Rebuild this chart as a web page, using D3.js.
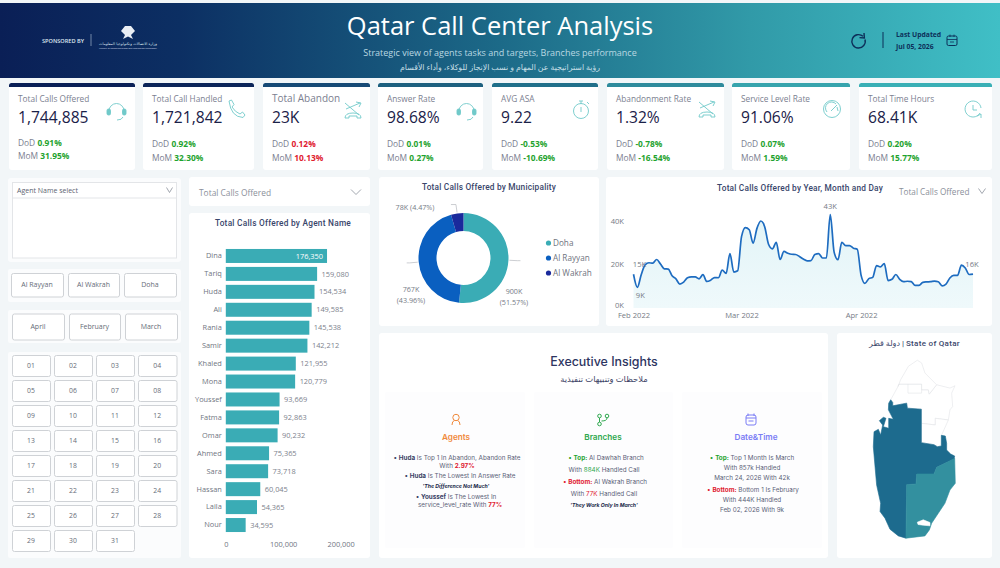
<!DOCTYPE html>
<html><head><meta charset="utf-8">
<style>html,body{margin:0;padding:0;background:#f2f6f8;overflow:hidden}svg{display:block}text{font-family:"Open Sans",sans-serif}</style>
<script src="https://cdn.jsdelivr.net/npm/d3@7"></script></head><body><script>
const kpiNames=["Total Calls Offered","Total Call Handled","Total Abandon","Answer Rate","AVG ASA","Abandonment Rate","Service Level Rate","Total Time Hours"];
const kpiValues=["1,744,885","1,721,842","23K","98.68%","9.22","1.32%","91.06%","68.41K"];
const kpiDoD=["0.91%","0.92%","0.12%","0.01%","-0.53%","-0.78%","0.07%","0.20%"];
const kpiMoM=["31.95%","32.30%","10.13%","0.27%","-10.69%","-16.54%","1.59%","15.77%"];
const kpiBad=[false,false,true,false,false,false,false,false];
const agents=["Dina","Tariq","Huda","Ali","Rania","Samir","Khaled","Mona","Youssef","Fatma","Omar","Ahmed","Sara","Hassan","Laila","Nour"];
const agentCalls=[176350,159080,154534,149585,145538,142212,121955,120779,93669,92863,90232,75365,73718,60045,54365,34595];
const municipalities=["Doha","Al Rayyan","Al Wakrah"];
const municipalityCalls=[900000,767000,78000];
const municipalityLabels=[["900K","(51.57%)"],["767K","(43.96%)"],["78K (4.47%)"]];
const branchButtons=["Al Rayyan","Al Wakrah","Doha"];
const monthButtons=["April","February","March"];
const dayButtons=["01","02","03","04","05","06","07","08","09","10","11","12","13","14","15","16","17","18","19","20","21","22","23","24","25","26","27","28","29","30","31"];
const dailyCallsK=[15.5,9.5,15.3,19.8,20.8,20.6,22.3,20.2,18,17.9,14.8,13.4,11,11.9,13.9,14.3,14.3,13.4,15.3,12.2,12.8,14,13.9,17.4,15.9,25,16.5,17.1,32.8,37,36,29.8,36.6,40,37.4,29.3,27.2,30.2,22.3,26,25.2,24.7,24.6,23.7,22.5,21.7,21.8,24.6,25,23,23,43,25.7,22.2,30.2,28.7,28.7,27.5,27,15,11.3,13.5,14.1,19.5,18.9,20.4,12.6,13.2,15.4,13.2,12.1,12.3,12.1,10.4,10.4,11.8,12,12.1,12.4,12.1,10.2,11,13.8,15,15,19.7,18.4,15.4,15.6];
const lineTicksK=[0,20,40];
const regionRayyan=[[50.926,25.79],[50.946,25.766],[50.946,25.736],[51.085,25.76],[51.092,25.715],[51.231,25.706],[51.231,25.405],[51.357,25.387],[51.39,25.369],[51.43,25.375],[51.43,25.471],[51.47,25.465],[51.483,25.399],[51.483,25.339],[51.523,25.303],[51.563,25.285],[51.556,25.255],[51.466,25.219],[51.384,25.183],[51.357,25.123],[51.185,25.123],[51.178,25.033],[51.085,25.027],[51.078,24.543],[51.002,24.564],[50.919,24.624],[50.869,24.724],[50.82,24.784],[50.826,24.859],[50.786,25.024],[50.773,25.159],[50.753,25.369],[50.76,25.504],[50.803,25.525],[50.826,25.474],[50.846,25.564],[50.813,25.603],[50.853,25.633],[50.879,25.624],[50.853,25.549],[50.906,25.534],[50.906,25.624],[50.952,25.615],[50.903,25.7],[50.906,25.76]];
const regionWakrah=[[51.563,25.264],[51.569,25.039],[51.516,24.979],[51.466,24.859],[51.4,24.769],[51.334,24.679],[51.311,24.618],[51.267,24.564],[51.078,24.543],[51.085,25.027],[51.178,25.033],[51.185,25.123],[51.357,25.123],[51.384,25.183],[51.466,25.219]];
const regionInlet=[[51.191,24.688],[51.25,24.709],[51.317,24.685],[51.317,24.655],[51.25,24.661],[51.198,24.667]];
const regionShamal=[[50.999,25.91],[51.025,25.97],[51.102,26.09],[51.191,26.144],[51.234,26.12],[51.267,26.03],[51.383,25.925],[51.31,25.841],[51.3,25.88],[51.234,25.88],[51.234,25.931],[51.009,25.931]];
const regionKhor=[[50.926,25.79],[50.999,25.91],[51.009,25.931],[51.234,25.931],[51.234,25.88],[51.3,25.88],[51.31,25.841],[51.383,25.925],[51.516,25.895],[51.566,25.916],[51.533,25.85],[51.543,25.73],[51.516,25.7],[51.5,25.609],[51.37,25.624],[51.37,25.564],[51.231,25.579],[51.231,25.706],[51.092,25.715],[51.085,25.76],[50.946,25.736],[50.946,25.766]];
const regionDoha=[[51.231,25.579],[51.37,25.564],[51.37,25.624],[51.5,25.609],[51.433,25.474],[51.43,25.375],[51.39,25.369],[51.357,25.387],[51.231,25.405]];
const regionLine=[[51.098,25.931],[51.098,25.85],[51.234,25.85],[51.234,25.88]];

const W=1000,H=568,INK="#1a2148",GREY="#6f7684",GREEN="#1fa32f",RED="#e0202f",TEAL="#3aacb5";
const svg=d3.select("body").append("svg").attr("width",W).attr("height",H).attr("viewBox",`0 0 ${W} ${H}`);
const defs=svg.append("defs");
const hg=defs.append("linearGradient").attr("id","hdr");
[["0%","#0a1f56"],["18%","#0c2f63"],["50%","#1c6a88"],["75%","#319aa8"],["100%","#40bfc6"]].forEach(s=>hg.append("stop").attr("offset",s[0]).attr("stop-color",s[1]));
const ag=defs.append("linearGradient").attr("id","areaG").attr("x1",0).attr("x2",0).attr("y1",0).attr("y2",1);
ag.append("stop").attr("offset","0%").attr("stop-color","#e2f4f7");ag.append("stop").attr("offset","100%").attr("stop-color","#eff9fb");

function panel(x0,y0,x1,y1,r=3,fill="#fff"){return svg.append("rect").attr("x",x0).attr("y",y0).attr("width",x1-x0).attr("height",y1-y0).attr("rx",r).attr("fill",fill)}
function txt(x,y,s,o={}){const t=svg.append("text").attr("x",x).attr("y",y).text(s).attr("font-size",o.size||9).attr("fill",o.fill||GREY).attr("text-anchor",o.anchor||"start");
 if(o.weight)t.attr("font-weight",o.weight);if(o.family)t.style("font-family",o.family);if(o.ls)t.attr("letter-spacing",o.ls);if(o.italic)t.attr("font-style","italic");return t}
function chevron(x,y,w=5){svg.append("path").attr("d",`M${x-w},${y-2.5}L${x},${y+2.5}L${x+w},${y-2.5}`).attr("fill","none").attr("stroke","#8a909a").attr("stroke-width",.8)}
function rich(x,y,parts,o={}){const t=svg.append("text").attr("x",x).attr("y",y).attr("text-anchor",o.anchor||"middle").attr("font-size",o.size||6.6).style("font-family","Inter,sans-serif");
 parts.forEach(p=>{const s=t.append("tspan").text(p.t).attr("fill",p.c||"#5b6178");if(p.b)s.attr("font-weight",700);if(p.i)s.attr("font-style","italic")});return t}

// header
svg.append("rect").attr("x",0).attr("y",3).attr("width",W).attr("height",75).attr("fill","url(#hdr)");
txt(500,35,"Qatar Call Center Analysis",{size:25.5,fill:"#fff",anchor:"middle"});
txt(500,56,"Strategic view of agents tasks and targets, Branches performance",{size:9,fill:"#b9d8e2",anchor:"middle"});
txt(500,70,"رؤية استراتيجية عن المهام و نسب الإنجاز للوكلاء، وأداء الأقسام",{size:7.8,fill:"#c6dfe6",anchor:"middle",family:"'Noto Sans','DejaVu Sans',sans-serif"});
txt(42,42.5,"SPONSORED BY",{size:5.6,fill:"#dfe7f0",weight:600});
svg.append("line").attr("x1",91).attr("x2",91).attr("y1",34).attr("y2",46).attr("stroke","#9fb2c9").attr("stroke-width",.7);
svg.append("path").attr("d","M125,26 L131,26 L135,31 L131,35 L133,39 L128,36.5 L123,39 L125,35 L121,31Z").attr("fill","#e9eef4");
txt(128,44.5,"وزارة الاتصالات وتكنولوجيا المعلومات",{size:3.6,fill:"#dfe7f0",anchor:"middle",family:"'DejaVu Sans',sans-serif"}).attr("textLength",58);
txt(128,48.5,"Ministry of Communications and Information Technology",{size:2.4,fill:"#cfd9e4",anchor:"middle"}).attr("textLength",58);
svg.append("path").attr("d","M872,36.5 A6.7,6.7 0 1 1 870,33.3 M871,30 L871.4,35 L866.5,34.6").attr("transform","translate(-7,3)").attr("fill","none").attr("stroke","#0d2f59").attr("stroke-width",1.4);
svg.append("line").attr("x1",883).attr("x2",883).attr("y1",32).attr("y2",48).attr("stroke","#0d2f59").attr("stroke-width",1);
txt(896,37,"Last Updated",{size:6.8,fill:"#0d2f59",weight:700});
txt(896,49,"Jul 05, 2026",{size:6.8,fill:"#0d2f59",weight:700});
svg.append("rect").attr("x",947).attr("y",36).attr("width",10).attr("height",9.5).attr("rx",1.5).attr("fill","none").attr("stroke","#0d2f59");
svg.append("path").attr("d","M947,39.5H957M950,34.6V37M954,34.6V37M950,42H954").attr("fill","none").attr("stroke","#0d2f59").attr("stroke-width",.8);

// KPI cards
const cardX=[[9,135],[143,254],[263,370],[378,483],[492,598],[607,724],[732,850],[859,992]];
const cardBar=["#0a2057","#0c2559","#174a76","#1d607f","#206f8a","#2e8b9c","#37a4ad","#3ab0b6"];
const ICON="#70c9c9";
const icons=[
 g=>{g.append("path").attr("d","M-7,1 A7.5,7.5 0 0 1 8,1 M7,7 Q6,10 1,10").attr("fill","none");g.append("rect").attr("x",-9).attr("y",-1).attr("width",3.5).attr("height",6).attr("rx",1.5);g.append("rect").attr("x",6.5).attr("y",-1).attr("width",3.5).attr("height",6).attr("rx",1.5)},
 g=>{g.append("path").attr("d","M-8,-9 L-5.5,-10 L-3,-5.5 L-5,-3 Q-2,2 3,4 L5.5,2 L8,5 L6,7.5 Q-6,7 -8,-9Z").attr("fill","none")},
 g=>{g.append("path").attr("d","M-8,-7 L6,5 M-7,-1 L7,-7 M3,-8 L8,-7 L6,-3 M-8,8 Q-8,3 0,3 Q8,3 8,8 L4,8 L4,6 L-4,6 L-4,8Z").attr("fill","none")},
 null,
 g=>{g.append("circle").attr("r",7.5).attr("cy",1).attr("fill","none");g.append("path").attr("d","M0,-3V2M-2,-9H2M0,-9V-6M6,-8L8,-6").attr("fill","none")},
 null,
 g=>{g.append("circle").attr("r",8.5).attr("fill","none");g.append("path").attr("d","M-1,2 L5,-4M-5,3 A6,6 0 0 1 4,-5 M5,-2 L6,2").attr("fill","none")},
 g=>{g.append("path").attr("d","M7,4 A8,8 0 1 1 8,-1 M0,-4V1H4M4,7 L8,5 L8,9").attr("fill","none")}
];
icons[3]=icons[0];icons[5]=icons[2];
const iconPos=[[116,110],[237,110],[353,110],[466,110],[581,110],[707,109],[832,109],[973,109]];
kpiNames.forEach((n,i)=>{
 const [a,b]=cardX[i];
 panel(a,83,b,170,3);
 svg.append("path").attr("d",`M${a},87V85.5Q${a},83 ${a+2.5},83H${b-2.5}Q${b},83 ${b},85.5V87Z`).attr("fill",cardBar[i]);
 const tx=a+9;
 txt(tx,102,n,{size:i==2?10:8.3,fill:"#7b8090"});
 txt(tx,123,kpiValues[i],{size:15.6,fill:INK,weight:500});
 const by=i==0?146:147;
 const col=kpiBad[i]?RED:GREEN;
 rich(tx,by,[{t:"DoD ",c:"#7b8090"},{t:kpiDoD[i],c:col,b:1}],{anchor:"start",size:8.4}).style("font-family","'Open Sans',sans-serif");
 rich(tx,i==0?159:161,[{t:"MoM ",c:"#7b8090"},{t:kpiMoM[i],c:col,b:1}],{anchor:"start",size:8.4}).style("font-family","'Open Sans',sans-serif");
 const g=svg.append("g").attr("transform",`translate(${iconPos[i][0]},${iconPos[i][1]})`).attr("stroke",ICON).attr("fill",ICON).attr("stroke-width",.9);
 icons[i](g);
});

// left slicers
panel(8,178,181,262,3,"#fbfcfd");
svg.append("rect").attr("x",12.5).attr("y",182.5).attr("width",164).attr("height",75.5).attr("fill","#fff").attr("stroke","#e3e5e8");
svg.append("line").attr("x1",13).attr("x2",176).attr("y1",198).attr("y2",198).attr("stroke","#e3e5e8");
txt(17,193,"Agent Name select",{size:7,fill:"#5d6370"});chevron(169.5,190,3);
function btn(a,b,y0,y1,s,size=7){svg.append("rect").attr("x",a+.5).attr("y",y0+.5).attr("width",b-a).attr("height",y1-y0).attr("rx",2).attr("fill","#fff").attr("stroke","#cfd2d6");txt((a+b)/2,(y0+y1)/2+2.5,s,{size,fill:"#666c78",anchor:"middle"})}
panel(8,269,181,302,2,"#fbfcfd");panel(8,310,181,343,2,"#fbfcfd");panel(8,352,181,558,2,"#fbfcfd");
const btn3=[[11,63],[68,119],[124,176]];
branchButtons.forEach((s,i)=>btn(btn3[i][0],btn3[i][1],273,296.5,s));
monthButtons.forEach((s,i)=>btn(btn3[i][0]+1,btn3[i][1]+1,313.5,339.5,s));
const dayX=[[12,50],[54,92],[96,134],[138,176.5]];
dayButtons.forEach((s,i)=>{const r=Math.floor(i/4),c=i%4,y=355+r*25;btn(dayX[c][0],dayX[c][1],y,y+21,s,6.8)});

// dropdown
panel(189,177,370,206);
txt(199,196,"Total Calls Offered",{size:8.4,fill:"#8b909a"});chevron(356,192);

// bars
panel(189,213,370,558);
txt(283,226,"Total Calls Offered by Agent Name",{size:8.3,fill:"#39466b",anchor:"middle",weight:500,family:"Roboto,sans-serif",ls:.25});
const xBar=d3.scaleLinear().domain([0,200000]).range([225.8,340.6]);
const yBar=d3.scaleBand().domain(agents).range([247,534]).paddingInner(.22).paddingOuter(.11);
svg.append("g").selectAll("rect").data(agents).join("rect").attr("x",xBar(0)).attr("y",d=>yBar(d)).attr("height",yBar.bandwidth()).attr("width",(d,i)=>xBar(agentCalls[i])-xBar(0)).attr("fill",TEAL);
const fmt=d3.format(",");
svg.append("g").selectAll("text").data(agents).join("text").attr("x",(d,i)=>i==0?xBar(agentCalls[i])-4:xBar(agentCalls[i])+4.5).attr("text-anchor",(d,i)=>i==0?"end":"start").attr("y",d=>yBar(d)+yBar.bandwidth()/2+2.6).attr("font-size",7.4).attr("fill",(d,i)=>i==0?"#fff":"#7c818c").text((d,i)=>fmt(agentCalls[i]));
const yAx=svg.append("g").attr("transform",`translate(${xBar(0)-4},0)`).call(d3.axisLeft(yBar).tickSize(0).tickPadding(0));
yAx.select(".domain").remove();yAx.selectAll("text").attr("font-size",7.4).attr("fill","#70757f").style("font-family","'Open Sans',sans-serif");
const xAx=svg.append("g").attr("transform","translate(0,536)").call(d3.axisBottom(xBar).tickValues([0,100000,200000]).tickSize(0).tickPadding(6).tickFormat(fmt));
xAx.select(".domain").remove();xAx.selectAll("text").attr("font-size",7.4).attr("fill","#70757f").style("font-family","'Open Sans',sans-serif");

// donut
panel(379,177,599,326);
txt(489,190,"Total Calls Offered by Municipality",{size:8.3,fill:"#39466b",anchor:"middle",weight:500,family:"Roboto,sans-serif",ls:.2});
const donutC=[463.5,258],donutR=[27,45];
const pie=d3.pie().sort(null)(municipalityCalls);
const arc=d3.arc().innerRadius(donutR[0]).outerRadius(donutR[1]);
const donutCol=d3.scaleOrdinal(municipalities,[TEAL,"#0a5fc0","#1a2a9c"]);
const gd=svg.append("g").attr("transform",`translate(${donutC})`);
gd.selectAll("path").data(pie).join("path").attr("d",arc).attr("fill",(d,i)=>donutCol(municipalities[i]));
const leader=d3.arc().innerRadius(46).outerRadius(46), leader2=d3.arc().innerRadius(54).outerRadius(54);
const lblX=[514,411,415],lblY=[294,292,210];
pie.forEach((d,i)=>{
 const p=leader.centroid(d),q=leader2.centroid(d);
 const ex=i==0?q[0]+donutC[0]+3:(i==1?q[0]+donutC[0]-3:q[0]+donutC[0]-5);
 svg.append("path").attr("d",`M${p[0]+donutC[0]},${p[1]+donutC[1]}L${q[0]+donutC[0]},${q[1]+donutC[1]}L${ex},${q[1]+donutC[1]}`).attr("fill","none").attr("stroke","#a9adb4").attr("stroke-width",.6);
 municipalityLabels[i].forEach((s,j)=>txt(lblX[i],lblY[i]+j*10.5,s,{size:7.2,fill:"#767b86",anchor:"middle"}));
});
municipalities.forEach((m,i)=>{const y=243+i*15;svg.append("circle").attr("cx",548.5).attr("cy",y).attr("r",2.6).attr("fill",donutCol(m));txt(553,y+3,m,{size:8.2,fill:"#6f7480"})});

// line chart
panel(606,177,992,326);
txt(800,191,"Total Calls Offered by Year, Month and Day",{size:8.3,fill:"#39466b",anchor:"middle",weight:500,family:"Roboto,sans-serif",ls:.2});
txt(899,194.5,"Total Calls Offered",{size:8.2,fill:"#8b909a"});chevron(982,191,3.5);
const startDate=new Date(2022,1,1);
const dates=dailyCallsK.map((_,i)=>d3.timeDay.offset(startDate,i));
const xL=d3.scaleTime().domain([dates[0],dates[dates.length-1]]).range([633.5,973]);
const yL=d3.scaleLinear().domain([0,40]).range([308,221]);
const aGen=d3.area().x((d,i)=>xL(dates[i])).y0(yL(0)).y1(d=>yL(d)).curve(d3.curveMonotoneX);
const lGen=d3.line().x((d,i)=>xL(dates[i])).y(d=>yL(d)).curve(d3.curveMonotoneX);
svg.append("path").attr("d",aGen(dailyCallsK)).attr("fill","url(#areaG)");
svg.append("path").attr("d",lGen(dailyCallsK)).attr("fill","none").attr("stroke","#1e6cc0").attr("stroke-width",1.7);
const xLAx=svg.append("g").attr("transform","translate(0,308)").call(d3.axisBottom(xL).tickValues([new Date(2022,1,1),new Date(2022,2,1),new Date(2022,3,1)]).tickSize(0).tickPadding(5).tickFormat(d3.timeFormat("%b %Y")));
xLAx.select(".domain").remove();xLAx.selectAll("text").attr("font-size",7.6).attr("fill","#767b86").style("font-family","'Open Sans',sans-serif");
const yLAx=svg.append("g").attr("transform","translate(624,0)").call(d3.axisLeft(yL).tickValues(lineTicksK).tickSize(0).tickPadding(0).tickFormat(d=>d+"K"));
yLAx.select(".domain").remove();yLAx.selectAll("text").attr("font-size",7.6).attr("fill","#767b86").style("font-family","'Open Sans',sans-serif").attr("dy",d=>d==0?"-0.1em":"0.32em");
[[0,"15K",6,-7],[1,"9K",3,11],[51,"43K",0,-5],[88,"16K",-1,-7]].forEach(([i,s,dx,dy])=>txt(xL(dates[i])+dx,yL(dailyCallsK[i])+dy,s,{size:7.6,fill:"#767b86",anchor:"middle"}));

// insights
panel(379,333,828,558);
[[385,525],[534,673],[682,822]].forEach(c=>panel(c[0],392,c[1],548,2,"#fdfdfe"));
txt(604,365.5,"Executive Insights",{size:12.4,fill:"#2d3561",anchor:"middle",weight:500,family:"Inter,sans-serif"});
txt(604,382,"ملاحظات وتنبيهات تنفيذية",{size:8.4,fill:"#3d4466",anchor:"middle",family:"'Noto Sans','DejaVu Sans',sans-serif"});
const A="#f08a3c",B="#2fa84f",C="#7a7cf5";
svg.append("g").attr("transform","translate(456,420)").attr("fill","none").attr("stroke",A).call(g=>{g.append("circle").attr("cy",-2.5).attr("r",3.2);g.append("path").attr("d","M-4,5 Q-4,1 -1.5,.5 M4,5 Q4,1 1.5,.5")});
svg.append("g").attr("transform","translate(603,420)").attr("fill","none").attr("stroke",B).call(g=>{g.append("circle").attr("cx",-3.5).attr("cy",-4).attr("r",1.8);g.append("circle").attr("cx",4).attr("cy",-4).attr("r",1.8);g.append("circle").attr("cx",-3.5).attr("cy",4).attr("r",1.8);g.append("path").attr("d","M-3.5,-2V2M4,-2Q4,1 -1.5,1")});
svg.append("g").attr("transform","translate(751,420)").attr("fill","none").attr("stroke",C).call(g=>{g.append("rect").attr("x",-5).attr("y",-5).attr("width",10).attr("height",10).attr("rx",2);g.append("path").attr("d","M-5,-2H5M-3,-6.5V-4M3,-6.5V-4M-2.5,1H2.5")});
[[456,"Agents",A],[603,"Branches",B],[756,"Date&Time",C]].forEach(d=>txt(d[0],439.5,d[1],{size:8.2,fill:d[2],anchor:"middle",weight:600,family:"Inter,sans-serif"}));
const N="#3a4266";
const insightRows=[
 [459.5,[457,[{t:"• ",c:N},{t:"Huda",c:N,b:1},{t:" Is Top 1 In Abandon, Abandon Rate"}]]],
 [467.5,[457,[{t:"With "},{t:"2.97%",c:RED,b:1}]]],
 [477.5,[460,[{t:"• ",c:N},{t:"Huda",c:N,b:1},{t:" Is The Lowest In Answer Rate"}]]],
 [488,[456,[{t:"'The Difference Not Much'",c:"#222a4a",b:1,i:1}],5.2]],
 [499,[456,[{t:"• ",c:N},{t:"Youssef",c:N,b:1},{t:" Is The Lowest In"}]]],
 [507,[460,[{t:"service_level_rate With "},{t:"77%",c:RED,b:1}]]],
 [459.5,[606,[{t:"• ",c:GREEN},{t:"Top:",c:GREEN,b:1},{t:"  Al Dawhah Branch"}]]],
 [471.5,[604,[{t:"With "},{t:"884K",c:B},{t:" Handled Call"}]]],
 [483.5,[605,[{t:"• ",c:RED},{t:"Bottom:",c:RED,b:1},{t:" Al Wakrah Branch"}]]],
 [495.5,[604,[{t:"With "},{t:"77K",c:RED},{t:" Handled Call"}]]],
 [507,[604,[{t:"'They Work Only In March'",c:"#222a4a",b:1,i:1}],5.2]],
 [459.5,[752,[{t:"• ",c:GREEN},{t:"Top:",c:GREEN,b:1},{t:" Top 1 Month Is March"}]]],
 [469.5,[752,[{t:"With 857k Handled"}]]],
 [479.5,[752,[{t:"March 24, 2026 With 42k"}]]],
 [491.5,[753,[{t:"• ",c:RED},{t:"Bottom:",c:RED,b:1},{t:" Bottom 1 Is February"}]]],
 [501.5,[752,[{t:"With 444K Handled"}]]],
 [511.5,[752,[{t:"Feb 02, 2026 With 9k"}]]]
];
insightRows.forEach(([y,[x,parts,size]])=>rich(x,y,parts,{size:size||6.3}));

// map
panel(837,333,992,558);
txt(914.5,346,"دولة قطر | State of Qatar",{size:8,fill:"#39466b",anchor:"middle",weight:500,family:"Roboto,'DejaVu Sans',sans-serif",ls:.3});
const proj=d3.geoMercator().center([51.15,25.35]).scale(5755).translate([913.2,448.8]);
const geo=d3.geoPath(proj);
const poly=c=>({type:"Polygon",coordinates:[[...c,c[0]]]});
const gm=svg.append("g");
[[regionKhor,"#fff","#e2e4e8"],[regionShamal,"#fff","#e2e4e8"],[regionDoha,"#fff","#e2e4e8"],[regionRayyan,"#1d6b8e","#1d6b8e"],[regionWakrah,"#33909f","#33909f"],[regionInlet,"#fff","#fff"]].forEach(([c,f,s])=>gm.append("path").attr("d",geo(poly(c))).attr("fill",f).attr("stroke",s).attr("stroke-width",.6));
gm.append("path").attr("d",geo({type:"LineString",coordinates:regionLine})).attr("fill","none").attr("stroke","#e2e4e8").attr("stroke-width",.6);
</script></body></html>
